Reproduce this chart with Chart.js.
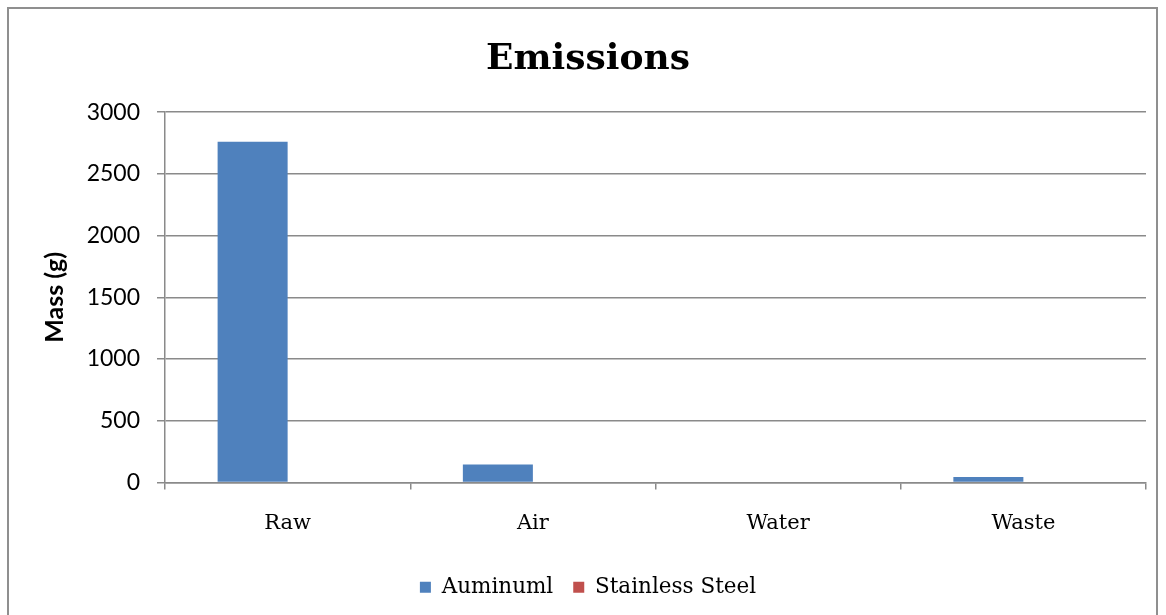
<!DOCTYPE html>
<html>
<head>
<meta charset="utf-8">
<script src="https://cdn.jsdelivr.net/npm/chart.js@4/dist/chart.umd.min.js"></script>
<style>
  html, body { margin: 0; padding: 0; background: #fff; }
  #wrap { width: 1166px; height: 615px; position: relative; }
</style>
</head>
<body>
<div id="wrap"><canvas id="c" width="1166" height="615"></canvas></div>
<script>
// Emission categories and masses (g)
const categories = ['Raw', 'Air', 'Water', 'Waste'];
const aluminumMass = [2760, 145, 0, 45];
const stainlessMass = [0, 0, 0, 0];
const seriesNames = ['Auminuml', 'Stainless Steel'];
const yTicks = { min: 0, max: 3000, step: 500 };

const gridGray = '#8a8a8a';

// Outer frame around the whole chart
const framePlugin = {
  id: 'frame',
  beforeDraw(chart) {
    const ctx = chart.ctx;
    ctx.save();
    ctx.fillStyle = '#fff';
    ctx.fillRect(0, 0, chart.width, chart.height);
    ctx.strokeStyle = '#8f8f8f';
    ctx.lineWidth = 2;
    ctx.strokeRect(8, 8, 1149, 700);
    ctx.restore();
  }
};

new Chart(document.getElementById('c'), {
  type: 'bar',
  data: {
    labels: categories,
    datasets: [
      { label: seriesNames[0], data: aluminumMass, backgroundColor: '#4F81BD', borderWidth: 0 },
      { label: seriesNames[1], data: stainlessMass, backgroundColor: '#C0504D', borderWidth: 0 }
    ]
  },
  plugins: [framePlugin],
  options: {
    responsive: false,
    animation: false,
    devicePixelRatio: 1,
    layout: { padding: { left: 30, right: 20, top: 0, bottom: 7 } },
    datasets: { bar: { categoryPercentage: 0.571, barPercentage: 1.0 } },
    plugins: {
      title: {
        display: true,
        text: 'Emissions',
        color: '#000',
        font: { family: 'DejaVu Serif', size: 36, weight: 'bold' },
        padding: { top: 38, bottom: 31 }
      },
      legend: {
        position: 'bottom',
        labels: {
          color: '#000',
          font: { family: 'DejaVu Serif', size: 21.5 },
          boxWidth: 11,
          boxHeight: 11,
          padding: 20
        }
      },
      tooltip: { enabled: false }
    },
    scales: {
      x: {
        offset: true,
        grid: {
          display: true,
          offset: true,
          drawOnChartArea: false,
          drawTicks: true,
          tickLength: 7,
          color: gridGray,
          lineWidth: 1.5
        },
        border: { display: true, color: gridGray, width: 1.5 },
        ticks: {
          color: '#000',
          font: { family: 'DejaVu Serif', size: 21 },
          padding: 21
        },
        afterFit(scale) { scale.height = 74; }
      },
      y: {
        min: yTicks.min,
        max: yTicks.max,
        ticks: {
          stepSize: yTicks.step,
          color: '#000',
          font: { family: 'Lato', size: 23 },
          padding: 17,
          callback: (v) => String(v)
        },
        grid: {
          color: gridGray,
          lineWidth: 1.5,
          drawTicks: true,
          tickLength: 8
        },
        border: { display: true, color: gridGray, width: 1.5 },
        title: {
          display: true,
          text: 'Mass (g)',
          color: '#000',
          font: { family: 'Lato', size: 25, weight: 'bold' },
          padding: { top: 10, bottom: 0 }
        },
        afterFit(scale) { scale.width = 135; }
      }
    }
  }
});
</script>
</body>
</html>
